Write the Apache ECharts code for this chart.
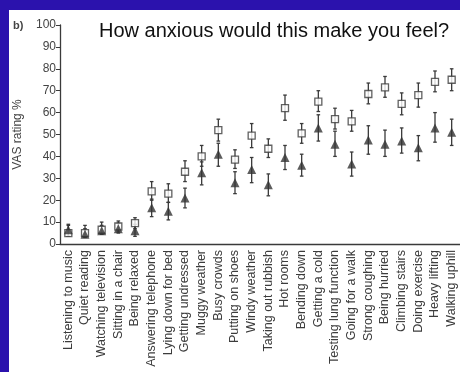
<!DOCTYPE html>
<html>
<head>
<meta charset="utf-8">
<script src="https://cdn.jsdelivr.net/npm/echarts@6/dist/echarts.min.js"></script>
<style>html,body{margin:0;padding:0;background:#fff;}#c{width:460px;height:372px;}</style>
</head>
<body>
<div id="c"></div>
<script>
var categories = ["Listening to music","Quiet reading","Watching television","Sitting in a chair","Being relaxed","Answering telephone","Lying down for bed","Getting undressed","Muggy weather","Busy crowds","Putting on shoes","Windy weather","Taking out rubbish","Hot rooms","Bending down","Getting a cold","Testing lung function","Going for a walk","Strong coughing","Being hurried","Climbing stairs","Doing exercise","Heavy lifting","Walking uphill"];
var yTicks = [0,10,20,30,40,50,60,70,80,90,100];
var squareMean = [5, 5, 6.5, 8, 9.5, 24, 23, 33, 40, 52, 38.5, 49.5, 43.5, 62, 50.5, 65, 57, 56, 68.5, 71.5, 64, 68, 74, 75];
var squareHigh = [8.5, 8.5, 10, 10.5, 12, 28.5, 27.5, 38, 45, 57, 43, 55, 48, 68, 55, 70, 62, 61, 73.5, 76.5, 69, 73.5, 79, 80];
var squareLow = [3.5, 3.5, 4.5, 5.5, 7, 20, 19, 28.5, 35.5, 47, 34.5, 44, 39.5, 56.5, 46, 60.5, 52.5, 51.5, 64, 67, 59, 62.5, 69.5, 70];
var triMean = [6.5, 4.5, 6, 7, 6, 16.5, 15, 21, 32.5, 41, 28, 34, 27, 39.5, 36, 53, 45.5, 36.5, 47.5, 45.5, 47, 44, 53, 51];
var triHigh = [9, 7, 8.5, 9.5, 9, 20.5, 19, 25.5, 37.5, 46, 33, 39.5, 32, 45, 41, 59, 51.5, 42, 54, 52, 53, 49.5, 60, 57];
var triLow = [3.5, 3, 4.5, 5, 3.5, 12.5, 11, 16.5, 27, 35.5, 23, 28, 22, 34, 31, 47, 40, 31, 41, 40, 41.5, 38, 46.5, 45];

var ink = '#3a3a3a';
function errData(lo, hi) { return categories.map(function (c, i) { return [i, lo[i], hi[i]]; }); }
function errRender(params, api) {
  var x = api.value(0);
  var a = api.coord([x, api.value(1)]);
  var b = api.coord([x, api.value(2)]);
  var s = { stroke: ink, lineWidth: 1.3 };
  return { type: 'group', children: [
    { type: 'line', shape: { x1: a[0], y1: a[1], x2: b[0], y2: b[1] }, style: s },
    { type: 'line', shape: { x1: a[0] - 1.8, y1: a[1], x2: a[0] + 1.8, y2: a[1] }, style: s },
    { type: 'line', shape: { x1: b[0] - 1.8, y1: b[1], x2: b[0] + 1.8, y2: b[1] }, style: s }
  ]};
}

var chart = echarts.init(document.getElementById('c'), null, { renderer: 'canvas' });
chart.setOption({
  animation: false,
  backgroundColor: '#ffffff',
  title: {
    text: 'How anxious would this make you feel?',
    left: 94, top: 16,
    textStyle: { fontFamily: 'Liberation Sans', fontSize: 20, fontWeight: 'normal', color: '#111' }
  },
  graphic: [
    { type: 'rect', left: 0, top: 0, shape: { width: 9, height: 372 }, style: { fill: '#2b12ad' } },
    { type: 'rect', left: 0, top: 0, shape: { width: 460, height: 10 }, style: { fill: '#2b12ad' } },
    { type: 'text', left: 13, top: 20, style: { text: 'b)', font: 'bold 11px "Liberation Sans"', fill: '#444' } }
  ],
  grid: { left: 60, right: 0, top: 25, bottom: 128 },
  xAxis: {
    type: 'category',
    data: categories,
    axisLine: { lineStyle: { color: ink, width: 1.3 } },
    axisTick: { alignWithLabel: true, length: 4, lineStyle: { color: ink } },
    axisLabel: { rotate: 90, interval: 0, fontSize: 12.5, margin: 6, color: '#3c3c3c', fontFamily: 'Liberation Sans' }
  },
  yAxis: {
    type: 'value', min: 0, max: 100, interval: 10,
    name: 'VAS rating %', nameLocation: 'middle', nameGap: 36,
    nameTextStyle: { fontSize: 12, color: '#444', fontFamily: 'Liberation Sans' },
    axisLine: { show: true, lineStyle: { color: ink, width: 1.3 } },
    axisTick: { show: true, length: 4, lineStyle: { color: ink } },
    axisLabel: { fontSize: 12, color: '#444', margin: 4, fontFamily: 'Liberation Sans',
      formatter: function (v) { return yTicks.indexOf(v) >= 0 ? String(v) : ''; } },
    splitLine: { show: false }
  },
  series: [
    { type: 'custom', renderItem: errRender, data: errData(squareLow, squareHigh), encode: { x: 0, y: [1, 2] }, z: 2 },
    { type: 'custom', renderItem: errRender, data: errData(triLow, triHigh), encode: { x: 0, y: [1, 2] }, z: 2 },
    { type: 'scatter', data: squareMean, symbol: 'rect', symbolSize: 7, z: 4,
      itemStyle: { color: '#ffffff', borderColor: ink, borderWidth: 1.3 } },
    { type: 'scatter', data: triMean, symbol: 'triangle', symbolSize: 9, z: 5,
      itemStyle: { color: '#333333' } }
  ]
});
</script>
</body>
</html>
